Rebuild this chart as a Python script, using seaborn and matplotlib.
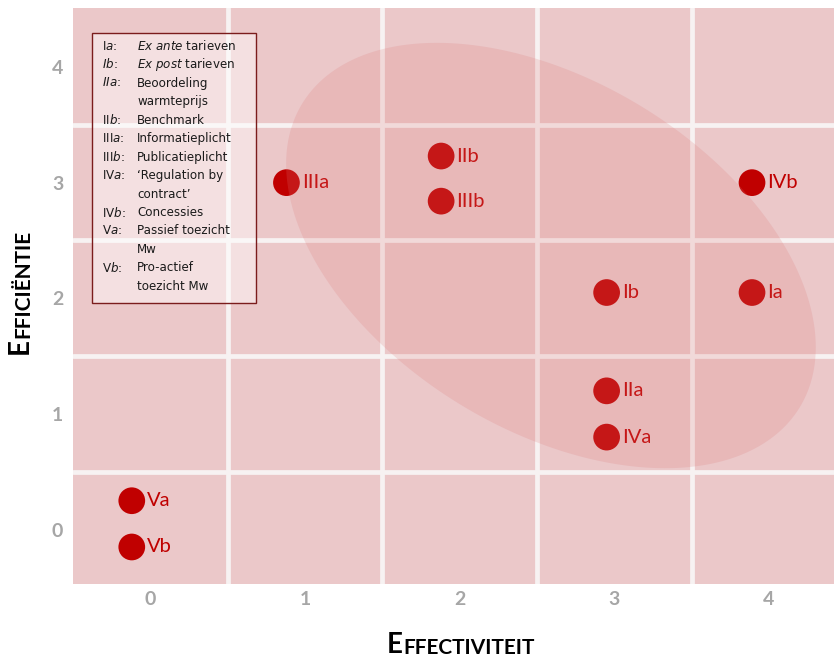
import matplotlib
matplotlib.use("Agg")
import matplotlib.pyplot as plt
import seaborn as sns
import numpy as np
import pandas as pd
from matplotlib.patches import Rectangle

# ---------------- data ----------------
labels = ["Ia", "Ib", "IIa", "IIb", "IIIa", "IIIb", "IVa", "IVb", "Va", "Vb"]
effectiviteit = [3.89, 2.95, 2.95, 1.88, 0.88, 1.88, 2.95, 3.89, -0.12, -0.12]
efficientie = [2.05, 2.05, 1.20, 3.23, 3.00, 2.84, 0.80, 3.00, 0.25, -0.15]
x_ticks = [0, 1, 2, 3, 4]
y_ticks = [0, 1, 2, 3, 4]

legend_codes = [r"I$\mathit{a}$:", r"$\mathit{Ib}$:", r"$\mathit{IIa}$:", "", r"II$\mathit{b}$:",
                r"III$\mathit{a}$:", r"III$\mathit{b}$:", r"IV$\mathit{a}$:", "", r"IV$\mathit{b}$:",
                r"V$\mathit{a}$:", "", r"V$\mathit{b}$:", ""]
legend_texts = [r"$\mathit{Ex\ ante}$ tarieven", r"$\mathit{Ex\ post}$ tarieven", "Beoordeling",
                "warmteprijs", "Benchmark", "Informatieplicht", "Publicatieplicht",
                "\u2018Regulation by", "contract\u2019", "Concessies", "Passief toezicht",
                "Mw", "Pro-actief", "toezicht Mw"]

# ellipse (data units): centre and two conjugate semi-axis vectors
ell_center = (2.59, 2.37)
ell_a = (1.605, -1.320)
ell_b = (-0.596, -1.280)

df = pd.DataFrame({"Effectiviteit": effectiviteit, "Efficientie": efficientie, "label": labels})

# ---------------- style ----------------
sns.set_theme(style="white")
plt.rcParams["font.family"] = ["Lato", "DejaVu Sans"]
plt.rcParams["mathtext.fontset"] = "dejavusans"

RED = "#C00000"
BG = "#EBC8C9"

fig = plt.figure(figsize=(8.34, 6.6), dpi=100)
fig.patch.set_facecolor("white")
ax = fig.add_axes([73 / 834, 1 - 584 / 660, 1 - 73 / 834, (584 - 8) / 660])
ax.set_facecolor(BG)

sns.scatterplot(data=df, x="Effectiviteit", y="Efficientie", ax=ax, color=RED,
                s=370, edgecolor="none", linewidth=0, zorder=3, legend=False)

for lab, xv, yv in zip(labels, effectiviteit, efficientie):
    ax.annotate(lab, (xv, yv), xytext=(11, 0), textcoords="offset points",
                va="center", ha="left", color=RED, fontsize=14.5, zorder=4)

ax.set_xlim(-0.5, 4.42)
ax.set_ylim(-0.47, 4.51)
ax.set_xticks(x_ticks)
ax.set_yticks(y_ticks)
ax.set_xticks([0.5, 1.5, 2.5, 3.5], minor=True)
ax.set_yticks([0.5, 1.5, 2.5, 3.5], minor=True)
ax.grid(False)
ax.grid(which="minor", color="#F7F2F2", linewidth=3.4, zorder=1)
ax.set_axisbelow(True)
for sp in ax.spines.values():
    sp.set_visible(False)
ax.tick_params(which="both", length=0)
ax.tick_params(axis="x", pad=5)
ax.tick_params(axis="y", pad=7)
for t in ax.get_xticklabels() + ax.get_yticklabels():
    t.set_color("#A6A6A6")
    t.set_fontweight("bold")
    t.set_fontsize(14)
ax.set_xlabel("")
ax.set_ylabel("")

# ellipse overlay (drawn on top, semi-transparent)
t = np.linspace(0, 2 * np.pi, 400)
ex = ell_center[0] + ell_a[0] * np.cos(t) + ell_b[0] * np.sin(t)
ey = ell_center[1] + ell_a[1] * np.cos(t) + ell_b[1] * np.sin(t)
ax.fill(ex, ey, color="#DC7878", alpha=0.2, lw=0, zorder=5)

# axis labels in small caps
tx = fig.text(387 / 834, 1 - 653 / 660, "E", fontsize=20, fontweight="bold", color="black",
              ha="left", va="baseline")
ax.annotate("FFECTIVITEIT", xy=(1, 0), xycoords=tx, fontsize=15,
            fontweight="bold", color="black", ha="left", va="bottom",
            annotation_clip=False)
ty = fig.text(33 / 834, 1 - 354 / 660, "E", fontsize=20, fontweight="bold", color="black",
              rotation=90, ha="right", va="bottom")
ax.annotate("FFICI\u00cbNTIE", xy=(1, 1), xycoords=ty, fontsize=15, fontweight="bold",
            color="black", rotation=90, ha="right", va="bottom", annotation_clip=False)

# legend box
box = Rectangle((92 / 834, 1 - 303 / 660), (256 - 92) / 834, (303 - 33) / 660,
                transform=fig.transFigure, facecolor="white", alpha=0.45, edgecolor="none",
                zorder=6)
fig.patches.append(box)
box_edge = Rectangle((92 / 834, 1 - 303 / 660), (256 - 92) / 834, (303 - 33) / 660,
                     transform=fig.transFigure, facecolor="none", edgecolor="#7B1C1C",
                     linewidth=1.0, zorder=7)
fig.patches.append(box_edge)

y0 = 46
dy = 18.5
for i, (c, d) in enumerate(zip(legend_codes, legend_texts)):
    yy = 1 - (y0 + i * dy) / 660
    if c:
        fig.text(102 / 834, yy, c, fontsize=8.6, color="#1a1a1a", va="center", ha="left",
                 family="DejaVu Sans", zorder=8)
    fig.text(137 / 834, yy, d, fontsize=8.6, color="#1a1a1a", va="center", ha="left",
             family="DejaVu Sans", zorder=8)

fig.savefig("out.png", dpi=100, facecolor="white")
